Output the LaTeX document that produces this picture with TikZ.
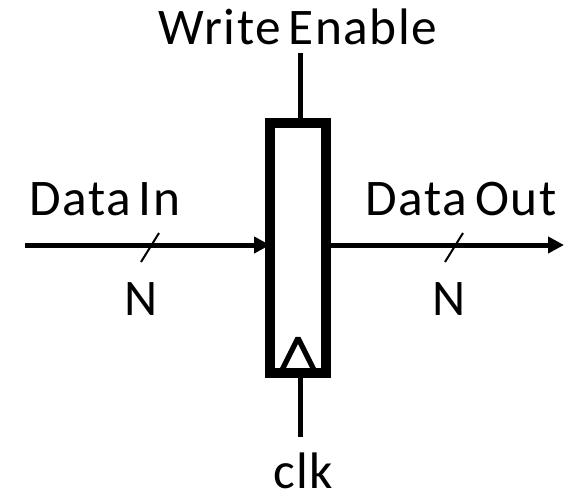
\documentclass[tikz,border=0pt]{standalone}
\usepackage{fontspec}
\setmainfont{Carlito}[LetterSpace=3,WordSpace=0.6]
\usetikzlibrary{arrows.meta}
\tikzset{
  lbl/.style={font=\fontsize{38.5}{42}\selectfont,inner sep=0pt,anchor=base},
  wire/.style={line width=3.75pt},
  bus/.style={wire,-{Triangle[length=12pt,width=12pt]}},
  slash/.style={line width=1.5pt},
}
\begin{document}
\begin{tikzpicture}[x=0.75pt,y=-0.75pt]
  \useasboundingbox (0,0) rectangle (574,496);
  \draw
    (298,248) node[draw,line width=7.5pt,minimum width=42pt,minimum height=187.5pt,inner sep=0pt] (reg){}
    (298,44) node[lbl] (we){Write Enable}
    (105,215) node[lbl] (din){Data In}
    (461,215) node[lbl] (dout){Data Out}
    (141,315) node[lbl] (nin){N}
    (449,315) node[lbl] (nout){N}
    (303,488) node[lbl] (clk){clk};
  \coordinate (wetop) at (300,53);
  \coordinate (clkend) at (300,437);
  \coordinate (inend) at (25,245);
  \coordinate (outend) at (564,245);
  \coordinate (t1) at (282,370);
  \coordinate (t2) at (298,338);
  \coordinate (t3) at (314,370);
  \coordinate (s1) at (141,262);
  \coordinate (s2) at (159,233);
  \coordinate (s3) at (445,262);
  \coordinate (s4) at (463,233);
  \begin{scope}[wire]
    \draw (wetop) -- (wetop |- reg.north);
    \draw (clkend) -- (clkend |- reg.south);
    \draw[bus,shorten >=-3.75pt] (inend) -- (inend -| reg.west);
    \draw[bus] (reg.east |- outend) -- (outend);
    \draw[slash] (s1) -- (s2);
    \draw[slash] (s3) -- (s4);
    \draw[line width=4pt,line join=bevel] (t1) -- (t2) -- (t3);
  \end{scope}
\end{tikzpicture}
\end{document}
